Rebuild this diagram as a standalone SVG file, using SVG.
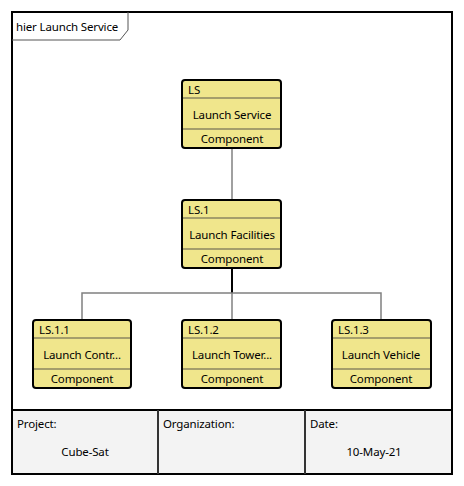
<svg xmlns="http://www.w3.org/2000/svg" width="464" height="486" viewBox="0 0 464 486">
<style>
text{font-family:"Noto Sans","Open Sans","Liberation Sans",sans-serif;font-size:11.5px;letter-spacing:-0.15px;fill:#000}
.c{text-anchor:middle}
.box{fill:#f0e68c;stroke:#000;stroke-width:2}
.div{stroke:#8c8660;stroke-width:1.5}
.conn{fill:none;stroke:#808080;stroke-width:1.5}
</style>
<rect x="0" y="0" width="464" height="486" fill="#fff"/>
<g id="frame">
<rect x="12" y="410" width="440" height="64" fill="#f3f3f3"/>
<rect x="12" y="12" width="440" height="462" fill="none" stroke="#000" stroke-width="2"/>
<line x1="12" y1="410" x2="452" y2="410" stroke="#000" stroke-width="2"/>
<line x1="158" y1="410" x2="158" y2="474" stroke="#333" stroke-width="2"/>
<line x1="305" y1="410" x2="305" y2="474" stroke="#333" stroke-width="2"/>
<path d="M12,40 H120 L128,30 V12" fill="none" stroke="#555" stroke-width="1"/>
<text x="16" y="31">hier Launch Service</text>
<text x="17" y="428">Project:</text>
<text x="85" y="456" class="c">Cube-Sat</text>
<text x="163" y="428">Organization:</text>
<text x="310" y="428">Date:</text>
<text x="374" y="456" class="c">10-May-21</text>
</g>
<g id="connectors">
<line class="conn" x1="232" y1="148" x2="232" y2="200"/>
<line x1="232" y1="268" x2="232" y2="293" stroke="#000" stroke-width="2"/>
<polyline class="conn" points="82,320 82,293 381,293 381,320"/>
<line class="conn" x1="232" y1="293" x2="232" y2="320"/>
</g>
<g id="LS">
<rect class="box" x="182" y="80" width="99" height="68" rx="3"/>
<line class="div" x1="183" y1="98" x2="280" y2="98"/>
<line class="div" x1="183" y1="129" x2="280" y2="129"/>
<text x="188" y="94">LS</text>
<text x="232" y="119" class="c">Launch Service</text>
<text x="232" y="143" class="c">Component</text>
</g>
<g id="LS.1">
<rect class="box" x="182" y="200" width="99" height="68" rx="3"/>
<line class="div" x1="183" y1="218" x2="280" y2="218"/>
<line class="div" x1="183" y1="249" x2="280" y2="249"/>
<text x="188" y="214">LS.1</text>
<text x="232" y="239" class="c">Launch Facilities</text>
<text x="232" y="263" class="c">Component</text>
</g>
<g id="LS.1.1">
<rect class="box" x="33" y="320" width="98" height="68" rx="3"/>
<line class="div" x1="34" y1="338" x2="130" y2="338"/>
<line class="div" x1="34" y1="369" x2="130" y2="369"/>
<text x="39" y="334">LS.1.1</text>
<text x="82" y="359" class="c">Launch Contr...</text>
<text x="82" y="383" class="c">Component</text>
</g>
<g id="LS.1.2">
<rect class="box" x="182" y="320" width="99" height="68" rx="3"/>
<line class="div" x1="183" y1="338" x2="280" y2="338"/>
<line class="div" x1="183" y1="369" x2="280" y2="369"/>
<text x="188" y="334">LS.1.2</text>
<text x="232" y="359" class="c">Launch Tower...</text>
<text x="232" y="383" class="c">Component</text>
</g>
<g id="LS.1.3">
<rect class="box" x="332" y="320" width="99" height="68" rx="3"/>
<line class="div" x1="333" y1="338" x2="430" y2="338"/>
<line class="div" x1="333" y1="369" x2="430" y2="369"/>
<text x="338" y="334">LS.1.3</text>
<text x="381" y="359" class="c">Launch Vehicle</text>
<text x="381" y="383" class="c">Component</text>
</g>
</svg>
